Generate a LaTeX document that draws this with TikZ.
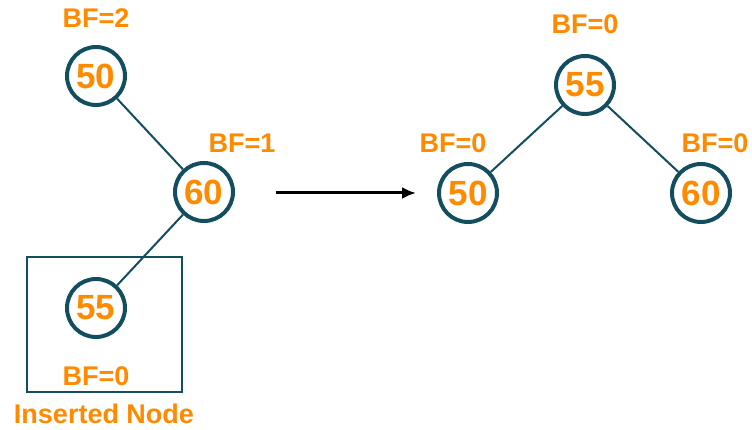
\documentclass[tikz,border=0pt]{standalone}
\usepackage{fontspec}
\setmainfont{Liberation Sans}
\usepackage{xcolor}
\usepackage{tikz}
\usetikzlibrary{arrows.meta,positioning}
\definecolor{treeline}{HTML}{124E5F}
\definecolor{bforange}{HTML}{FF8A00}

\begin{document}
\begin{tikzpicture}[x=1pt, y=1pt,
  treenode/.style={circle, draw=treeline, line width=4pt, minimum size=58pt, inner sep=0pt, text=bforange, font=\fontsize{35}{40}\selectfont\bfseries},
  bflabel/.style={text=bforange, font=\fontsize{27}{32}\selectfont\bfseries, inner sep=0pt},
  edge/.style={treeline, line width=2pt},
  rotarrow/.style={black, line width=3pt, -{Latex[length=14pt, width=12pt]}}
]
\useasboundingbox (0,0) rectangle (752,430);

% ---- Before rotation ----
\node[treenode] (a50) at (96,354) {50};
\node[treenode] (a60) at (204,238) {60};
\node[treenode] (a55) at (96,122) {55};

\node[bflabel] (bfa50) at (96,412) {BF=2};
\node[bflabel] (bfa60) at (242,287) {BF=1};
\node[bflabel] (bfa55) at (96,54) {BF=0};

\draw[edge] (a50) -- (a60);
\draw[edge] (a60) -- (a55);

% ---- Inserted node box ----
\node[draw=treeline, line width=2pt, minimum width=155pt, minimum height=135pt, inner sep=0pt] (insbox) at (104.5,105.5) {};
\node[bflabel] (instext) at (104,16) {Inserted Node};

% ---- Rotation arrow ----
\coordinate (arrstart) at (276,237);
\coordinate (arrend) at (416,237);
\draw[rotarrow] (arrstart) -- (arrend);

% ---- After rotation ----
\node[treenode] (b55) at (585,345) {55};
\node[treenode] (b50) at (468,237) {50};
\node[treenode] (b60) at (701,237) {60};

\node[bflabel] (bfb55) at (585,406) {BF=0};
\node[bflabel] (bfb50) at (453,287) {BF=0};
\node[bflabel] (bfb60) at (715,287) {BF=0};

\draw[edge] (b55) -- (b50);
\draw[edge] (b55) -- (b60);

\end{tikzpicture}
\end{document}
